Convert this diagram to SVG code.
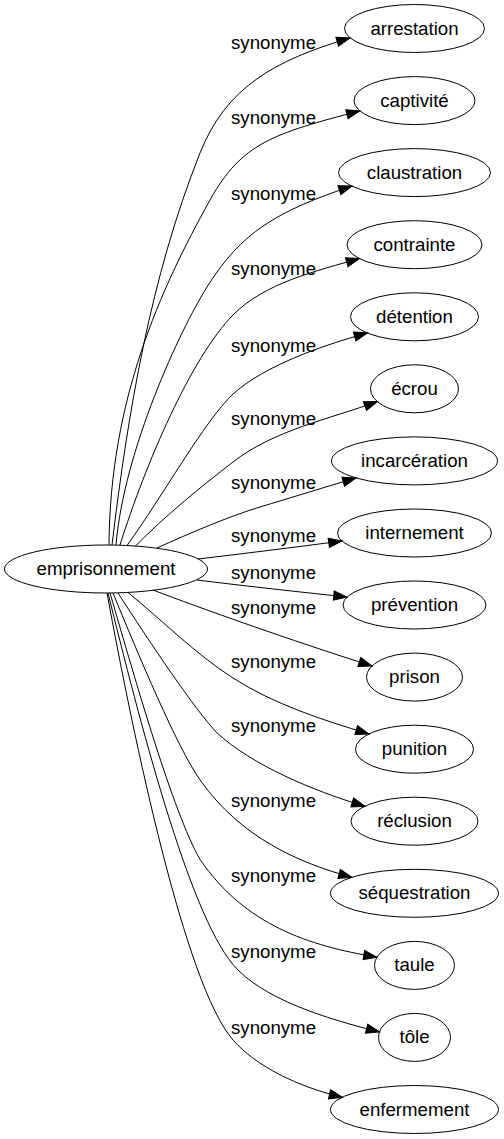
<svg xmlns="http://www.w3.org/2000/svg" width="504" height="1139" viewBox="0 0 504 1139">
<style>
.n ellipse{fill:none;stroke:#000;stroke-width:1}
text{font-family:"Liberation Sans",Arial,sans-serif;font-size:18.67px;fill:#000;text-anchor:middle}
.e path{fill:none;stroke:#000;stroke-width:1;marker-end:url(#arr)}
</style>
<defs>
<marker id="arr" markerUnits="userSpaceOnUse" markerWidth="16" markerHeight="12" refX="13.33" refY="4.67" orient="auto" overflow="visible">
<path d="M0,0 L13.33,4.67 L0,9.33 Z" fill="#000" stroke="#000" stroke-width="1"/>
</marker>
</defs>
<rect width="504" height="1139" fill="#fff"/>
<g id="edges" class="e">
<g id="e1"><path d="M112,545 C128,412 150.4,277.6 200,153 C225.9,87.9 273.3,60.6 350,38"/><text x="273.5" y="49">synonyme</text></g>
<g id="e2"><path d="M109,545 C110,400 160,290 210,200 C241.6,143.2 272.9,133.6 359.8,110.9"/><text x="273.5" y="124">synonyme</text></g>
<g id="e3"><path d="M116,545 C124,450 180,330 207,287 C241.6,232 276.2,211.4 352,186"/><text x="273.5" y="200">synonyme</text></g>
<g id="e4"><path d="M120,545 C145.5,463.9 191,357.8 233,315 C264.5,282.9 316.3,271 359.5,258.5"/><text x="273.5" y="275">synonyme</text></g>
<g id="e5"><path d="M127,545.5 C162.8,496.1 204,421.6 233,394 C264,366 321.2,345.7 367.5,333"/><text x="273.5" y="352">synonyme</text></g>
<g id="e6"><path d="M135,546.5 C165.1,515.8 199.8,487.7 233,462 C274.1,430.1 328.7,419.3 377.5,401.5"/><text x="273.5" y="425">synonyme</text></g>
<g id="e7"><path d="M157,548 C190,533 230,516 260,507 C290,498 327,486.5 356,478"/><text x="273.5" y="489">synonyme</text></g>
<g id="e8"><path d="M198,559 C240,554 297,547 342,541"/><text x="273.5" y="542">synonyme</text></g>
<g id="e9"><path d="M197,580 C245,586 300,592 347,597"/><text x="273.5" y="579">synonyme</text></g>
<g id="e10"><path d="M153,590 C200,608 290,640 372,666"/><text x="273.5" y="614">synonyme</text></g>
<g id="e11"><path d="M128,592.5 C162.7,620.8 195.1,653.7 233,678 C274.3,704.5 322.1,719.7 369,734"/><text x="273.5" y="668">synonyme</text></g>
<g id="e12"><path d="M118,593 C148.8,640.9 196.1,711.4 217,732.9 C252,765 312.3,790.6 365,806.3"/><text x="273.5" y="732">synonyme</text></g>
<g id="e13"><path d="M113,593 C138.8,655.9 177,747.1 200,779.9 C240.2,837.2 298.9,863.1 352,877.3"/><text x="273.5" y="807">synonyme</text></g>
<g id="e14"><path d="M110,593 C136,682.3 172.8,811.7 200,859.5 C245,925 308,945.6 377,957.2"/><text x="273.5" y="882">synonyme</text></g>
<g id="e15"><path d="M108,593 C139.2,719.1 188,910.9 233,964.5 C261.9,999 326.1,1018.6 379.5,1032"/><text x="273.5" y="958">synonyme</text></g>
<g id="e16"><path d="M107,593 C134,739.7 185,985 233,1040 C256,1066.4 298.7,1087.1 342.5,1097.3"/><text x="273.5" y="1034">synonyme</text></g>
</g>
<g id="emprisonnement" class="n"><ellipse cx="106" cy="569" rx="101.5" ry="24"/><text x="106" y="575">emprisonnement</text></g>
<g id="arrestation" class="n"><ellipse cx="414.5" cy="28.5" rx="70" ry="24"/><text x="414.5" y="34.5">arrestation</text></g>
<g id="captivite" class="n"><ellipse cx="414.5" cy="100.6" rx="60.5" ry="24"/><text x="414.5" y="106.6">captivité</text></g>
<g id="claustration" class="n"><ellipse cx="414.5" cy="172.6" rx="76" ry="24"/><text x="414.5" y="178.6">claustration</text></g>
<g id="contrainte" class="n"><ellipse cx="414.5" cy="244.7" rx="67.5" ry="24"/><text x="414.5" y="250.7">contrainte</text></g>
<g id="detention" class="n"><ellipse cx="414.5" cy="316.8" rx="64" ry="24"/><text x="414.5" y="322.8">détention</text></g>
<g id="ecrou" class="n"><ellipse cx="414.5" cy="388.8" rx="44" ry="24"/><text x="414.5" y="394.8">écrou</text></g>
<g id="incarceration" class="n"><ellipse cx="414.5" cy="460.9" rx="83" ry="24"/><text x="414.5" y="466.9">incarcération</text></g>
<g id="internement" class="n"><ellipse cx="414.5" cy="533" rx="77" ry="24"/><text x="414.5" y="539">internement</text></g>
<g id="prevention" class="n"><ellipse cx="414.5" cy="605" rx="71.5" ry="24"/><text x="414.5" y="611">prévention</text></g>
<g id="prison" class="n"><ellipse cx="414.5" cy="677.1" rx="48" ry="24"/><text x="414.5" y="683.1">prison</text></g>
<g id="punition" class="n"><ellipse cx="414.5" cy="749.2" rx="59" ry="24"/><text x="414.5" y="755.2">punition</text></g>
<g id="reclusion" class="n"><ellipse cx="414.5" cy="821.2" rx="63.5" ry="24"/><text x="414.5" y="827.2">réclusion</text></g>
<g id="sequestration" class="n"><ellipse cx="414.5" cy="893.3" rx="84" ry="24"/><text x="414.5" y="899.3">séquestration</text></g>
<g id="taule" class="n"><ellipse cx="414.5" cy="965.4" rx="40" ry="24"/><text x="414.5" y="971.4">taule</text></g>
<g id="tole" class="n"><ellipse cx="414.5" cy="1037.4" rx="36" ry="24"/><text x="414.5" y="1043.4">tôle</text></g>
<g id="enfermement" class="n"><ellipse cx="414.5" cy="1109.5" rx="84" ry="24"/><text x="414.5" y="1115.5">enfermement</text></g>
</svg>
